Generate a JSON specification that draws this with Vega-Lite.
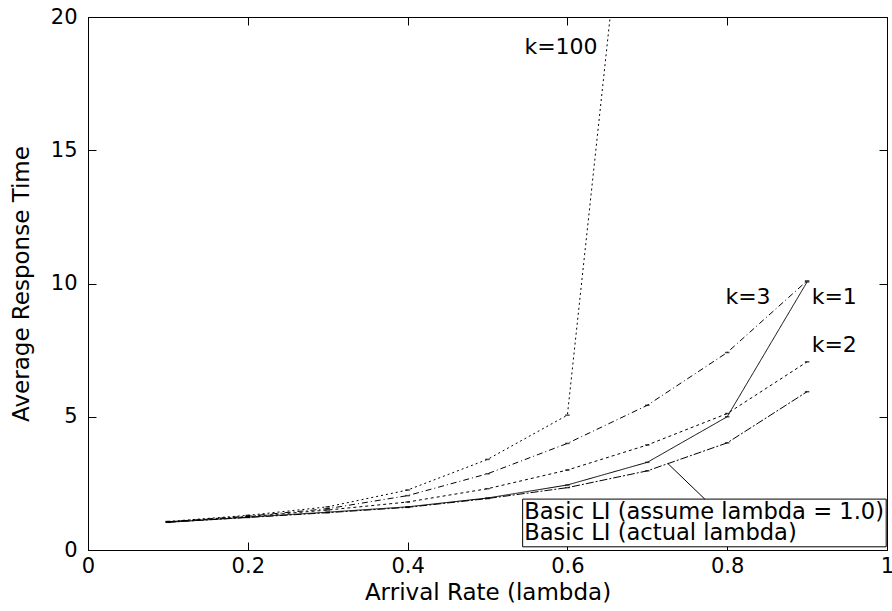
{
  "$schema": "https://vega.github.io/schema/vega-lite/v6.json",
  "width": 799,
  "height": 533,
  "autosize": {"type": "none"},
  "padding": {"left": 88, "top": 17, "right": 5, "bottom": 61},
  "background": "white",
  "config": {
    "view": {"stroke": null},
    "font": "DejaVu Sans",
    "axis": {
      "grid": false,
      "domainColor": "black",
      "domainWidth": 1,
      "tickColor": "black",
      "tickWidth": 1,
      "tickSize": -8,
      "labelColor": "black",
      "titleColor": "black",
      "labelFont": "DejaVu Sans",
      "titleFont": "DejaVu Sans",
      "labelFontSize": 21,
      "titleFontSize": 23,
      "titleFontWeight": "normal",
      "labelFlush": false,
      "labelOverlap": false,
      "labelBound": false
    }
  },
  "datasets": {
    "lines": [
      {"series": "k=100", "x": 0.1, "y": 1.07},
      {"series": "k=100", "x": 0.2, "y": 1.3},
      {"series": "k=100", "x": 0.3, "y": 1.62},
      {"series": "k=100", "x": 0.4, "y": 2.25},
      {"series": "k=100", "x": 0.5, "y": 3.4},
      {"series": "k=100", "x": 0.6, "y": 5.06},
      {"series": "k=100", "x": 0.7, "y": 33},
      {"series": "k=3", "x": 0.1, "y": 1.06},
      {"series": "k=3", "x": 0.2, "y": 1.27},
      {"series": "k=3", "x": 0.3, "y": 1.55},
      {"series": "k=3", "x": 0.4, "y": 2.04},
      {"series": "k=3", "x": 0.5, "y": 2.86},
      {"series": "k=3", "x": 0.6, "y": 4.0},
      {"series": "k=3", "x": 0.7, "y": 5.43},
      {"series": "k=3", "x": 0.8, "y": 7.41},
      {"series": "k=3", "x": 0.9, "y": 10.1},
      {"series": "k=2", "x": 0.1, "y": 1.06},
      {"series": "k=2", "x": 0.2, "y": 1.25},
      {"series": "k=2", "x": 0.3, "y": 1.5},
      {"series": "k=2", "x": 0.4, "y": 1.8},
      {"series": "k=2", "x": 0.5, "y": 2.3},
      {"series": "k=2", "x": 0.6, "y": 3.0},
      {"series": "k=2", "x": 0.7, "y": 3.94},
      {"series": "k=2", "x": 0.8, "y": 5.12},
      {"series": "k=2", "x": 0.9, "y": 7.06},
      {"series": "k=1", "x": 0.1, "y": 1.04},
      {"series": "k=1", "x": 0.2, "y": 1.23},
      {"series": "k=1", "x": 0.3, "y": 1.42},
      {"series": "k=1", "x": 0.4, "y": 1.62},
      {"series": "k=1", "x": 0.5, "y": 1.95},
      {"series": "k=1", "x": 0.6, "y": 2.44},
      {"series": "k=1", "x": 0.7, "y": 3.29},
      {"series": "k=1", "x": 0.8, "y": 5.0},
      {"series": "k=1", "x": 0.9, "y": 10.06},
      {"series": "actual", "x": 0.1, "y": 1.04},
      {"series": "actual", "x": 0.2, "y": 1.22},
      {"series": "actual", "x": 0.3, "y": 1.4},
      {"series": "actual", "x": 0.4, "y": 1.6},
      {"series": "actual", "x": 0.5, "y": 1.93},
      {"series": "actual", "x": 0.6, "y": 2.34},
      {"series": "actual", "x": 0.7, "y": 2.97},
      {"series": "actual", "x": 0.8, "y": 4.02},
      {"series": "actual", "x": 0.9, "y": 5.94}
    ],
    "labels": [
      {"text": "k=100", "x": 0.592, "y": 18.88},
      {"text": "k=3", "x": 0.826, "y": 9.5},
      {"text": "k=1", "x": 0.934, "y": 9.5},
      {"text": "k=2", "x": 0.934, "y": 7.69}
    ],
    "box": [
      {"x": 0.544, "x2": 0.999, "y": 1.91, "y2": 0.12}
    ],
    "legend": [
      {"text": "Basic LI (assume lambda = 1.0)", "x": 0.546, "y": 1.44},
      {"text": "Basic LI (actual lambda)", "x": 0.546, "y": 0.63}
    ],
    "pointer": [
      {"x": 0.7255, "y": 3.25, "x2": 0.772, "y2": 1.91}
    ]
  },
  "layer": [
    {
      "data": {"name": "lines"},
      "mark": {"type": "line", "color": "black", "strokeWidth": 1, "clip": true},
      "encoding": {
        "x": {
          "field": "x", "type": "quantitative",
          "scale": {"domain": [0, 1], "nice": false, "zero": false},
          "axis": {"orient": "bottom", "values": [0, 0.2, 0.4, 0.6, 0.8, 1], "format": "~g", "title": "Arrival Rate (lambda)", "labelPadding": 13, "titleY": 49, "titleBaseline": "alphabetic"}
        },
        "y": {
          "field": "y", "type": "quantitative",
          "scale": {"domain": [0, 20], "nice": false, "zero": false},
          "axis": {"orient": "left", "values": [0, 5, 10, 15, 20], "title": "Average Response Time", "labelPadding": 19, "titleX": -67, "titleBaseline": "middle"}
        },
        "detail": {"field": "series"},
        "strokeDash": {
          "field": "series", "type": "nominal", "legend": null,
          "scale": {"domain": ["k=100", "k=3", "k=2", "k=1", "actual"], "range": [[2, 3], [6, 3, 1, 3], [3, 3], [1, 0], [8, 2, 2, 2]]}
        }
      }
    },
    {
      "data": {"name": "lines"},
      "transform": [{"filter": "datum.y <= 20"}],
      "mark": {"type": "point", "shape": "M-1,0L1,0", "size": 20, "filled": false, "color": "black", "strokeWidth": 1.5},
      "encoding": {
        "x": {"field": "x", "type": "quantitative", "scale": {"domain": [0, 1], "nice": false, "zero": false}, "axis": null},
        "y": {"field": "y", "type": "quantitative", "scale": {"domain": [0, 20], "nice": false, "zero": false}, "axis": null}
      }
    },
    {
      "data": {"name": "box"},
      "mark": {"type": "rect", "fill": "white", "stroke": "black", "strokeWidth": 1},
      "encoding": {
        "x": {"field": "x", "type": "quantitative", "axis": null},
        "x2": {"field": "x2"},
        "y": {"field": "y", "type": "quantitative", "axis": null},
        "y2": {"field": "y2"}
      }
    },
    {
      "data": {"name": "pointer"},
      "mark": {"type": "rule", "color": "black", "strokeWidth": 1},
      "encoding": {
        "x": {"field": "x", "type": "quantitative", "axis": null},
        "x2": {"field": "x2"},
        "y": {"field": "y", "type": "quantitative", "axis": null},
        "y2": {"field": "y2"}
      }
    },
    {
      "data": {"name": "legend"},
      "mark": {"type": "text", "align": "left", "baseline": "middle", "fontSize": 22.6, "font": "DejaVu Sans", "color": "black"},
      "encoding": {
        "x": {"field": "x", "type": "quantitative", "axis": null},
        "y": {"field": "y", "type": "quantitative", "axis": null},
        "text": {"field": "text"}
      }
    },
    {
      "data": {"name": "labels"},
      "mark": {"type": "text", "align": "center", "baseline": "middle", "fontSize": 22, "font": "DejaVu Sans", "color": "black"},
      "encoding": {
        "x": {
          "field": "x", "type": "quantitative",
          "axis": {"orient": "top", "values": [0, 0.2, 0.4, 0.6, 0.8, 1], "labels": false, "title": null}
        },
        "y": {
          "field": "y", "type": "quantitative",
          "axis": {"orient": "right", "values": [0, 5, 10, 15, 20], "labels": false, "title": null}
        },
        "text": {"field": "text"}
      }
    }
  ],
  "resolve": {"axis": {"x": "independent", "y": "independent"}}
}
